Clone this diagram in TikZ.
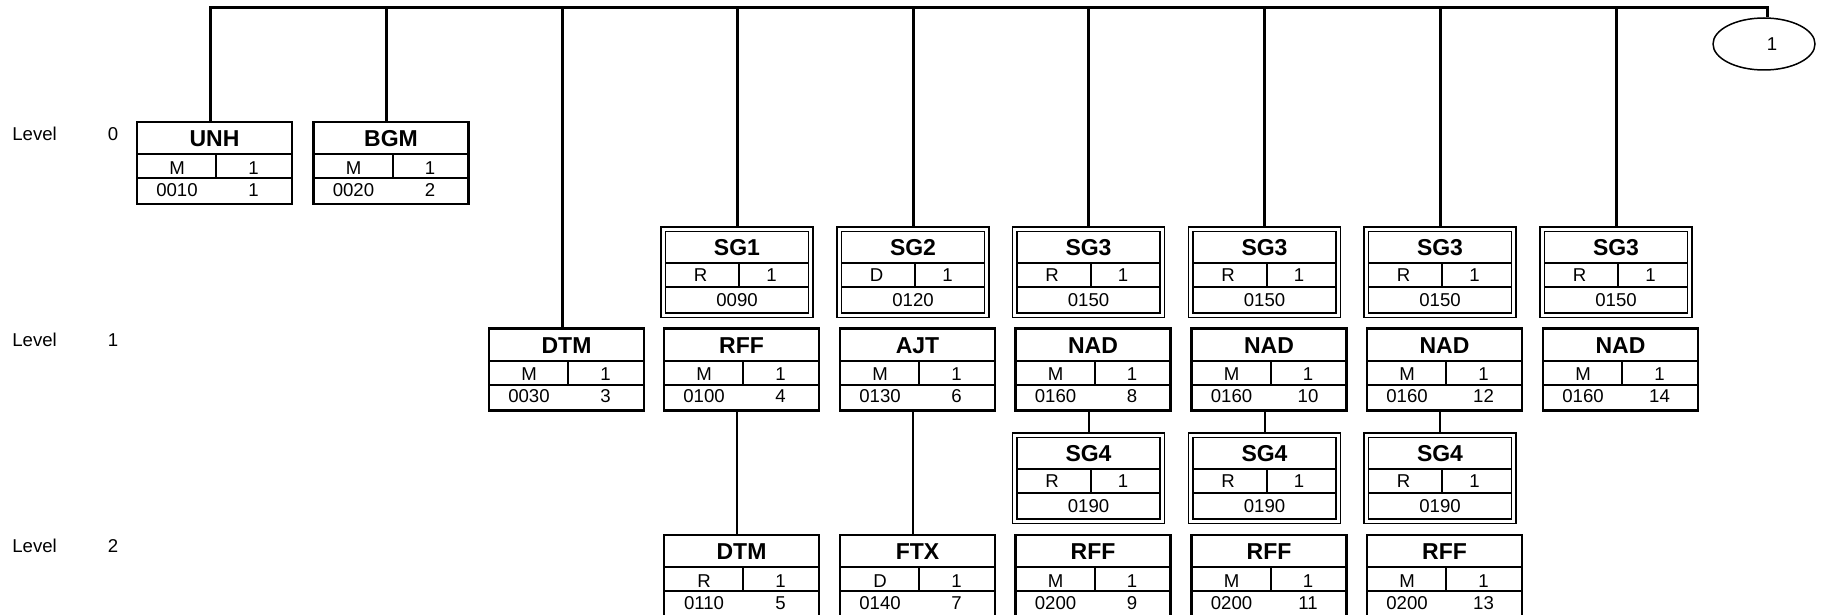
\documentclass[tikz,border=0pt]{standalone}
\usepackage{fontspec}
\setmainfont{Liberation Sans}
\usetikzlibrary{shapes.geometric,calc}

\tikzset{
  x=0.5pt, y=-0.5pt,
  bus/.style={line width=1.5pt, line join=miter},
  link/.style={line width=1.5pt},
  sublink/.style={line width=1pt},
  segframe/.style={draw, line width=1.1pt, rectangle, minimum width=77.5pt, minimum height=41pt, inner sep=0pt, outer sep=0pt},
  sgouter/.style={draw, line width=0.9pt, rectangle, minimum width=76pt, minimum height=45.25pt, inner sep=0pt, outer sep=0pt},
  sginner/.style={draw, line width=0.9pt, rectangle, minimum width=71.5pt, minimum height=40.75pt, inner sep=0pt, outer sep=0pt},
  rowline/.style={line width=1pt},
  ttl/.style={font=\fontsize{11.5}{12}\selectfont\bfseries, inner sep=0pt},
  txt/.style={font=\fontsize{9.3}{10}\selectfont, inner sep=0pt},
  lvl/.style={font=\fontsize{9.3}{10}\selectfont, inner sep=0pt, anchor=west},
  grp/.style={draw, ellipse, line width=0.75pt, minimum width=51pt, minimum height=26pt, inner sep=0pt},
}

% segment box: name, left x, top y, title, status, repeat, position, number
\newcommand{\segbox}[8]{%
  \node[segframe, anchor=north west] (#1) at (#2,#3) {};
  \draw[rowline] ($(#1.north west)+(0,32)$) -- ($(#1.north east)+(0,32)$);
  \draw[rowline] ($(#1.north west)+(0,56)$) -- ($(#1.north east)+(0,56)$);
  \draw[rowline] ($(#1.north west)+(79,32)$) -- ($(#1.north west)+(79,56)$);
  \node[ttl] (#1-t) at ($(#1.north west)+(77.5,17)$) {#4};
  \node[txt] (#1-s) at ($(#1.north west)+(40,46)$) {#5};
  \node[txt] (#1-r) at ($(#1.north west)+(116.5,46)$) {#6};
  \node[txt] (#1-p) at ($(#1.north west)+(40,68)$) {#7};
  \node[txt] (#1-n) at ($(#1.north west)+(116.5,68)$) {#8};
  \coordinate (#1-in) at ($(#1.north west)+(73,0)$);
  \coordinate (#1-out) at ($(#1.south west)+(73,0)$);
}

% group box: name, centre x, top y, title, status, repeat, position
\newcommand{\grpbox}[7]{%
  \node[sgouter, anchor=north] (#1) at (#2,#3) {};
  \node[sginner] (#1-i) at (#1.center) {};
  \draw[rowline] ($(#1-i.north west)+(0,31)$) -- ($(#1-i.north east)+(0,31)$);
  \draw[rowline] ($(#1-i.north west)+(0,55)$) -- ($(#1-i.north east)+(0,55)$);
  \draw[rowline] ($(#1-i.north west)+(73.5,31)$) -- ($(#1-i.north west)+(73.5,55)$);
  \node[ttl] (#1-t) at ($(#1-i.north west)+(71.5,16.3)$) {#4};
  \node[txt] (#1-s) at ($(#1-i.north west)+(35,43.3)$) {#5};
  \node[txt] (#1-r) at ($(#1-i.north west)+(106,43.3)$) {#6};
  \node[txt] (#1-p) at ($(#1-i.north west)+(71.5,68.6)$) {#7};
}

\begin{document}
\begin{tikzpicture}
\useasboundingbox (0,0) rectangle (1826,615);

% level labels
\node[lvl] (lv0) at (12,134) {Level};
\node[txt] (lv0n) at (113,134) {0};
\node[lvl] (lv1) at (12,340) {Level};
\node[txt] (lv1n) at (113,340) {1};
\node[lvl] (lv2) at (12,546) {Level};
\node[txt] (lv2n) at (113,546) {2};

% level 0
\segbox{unh}{137}{122}{UNH}{M}{1}{0010}{1}
\segbox{bgm}{313.5}{122}{BGM}{M}{1}{0020}{2}

% level 1 groups
\grpbox{sg1}{737}{227}{SG1}{R}{1}{0090}
\grpbox{sg2}{913}{227}{SG2}{D}{1}{0120}
\grpbox{sg3a}{1088.5}{227}{SG3}{R}{1}{0150}
\grpbox{sg3b}{1264.5}{227}{SG3}{R}{1}{0150}
\grpbox{sg3c}{1440}{227}{SG3}{R}{1}{0150}
\grpbox{sg3d}{1616}{227}{SG3}{R}{1}{0150}

% level 1 segments
\segbox{dtma}{489}{328.5}{DTM}{M}{1}{0030}{3}
\segbox{rffa}{664}{328.5}{RFF}{M}{1}{0100}{4}
\segbox{ajt}{840}{328.5}{AJT}{M}{1}{0130}{6}
\segbox{nada}{1015.5}{328.5}{NAD}{M}{1}{0160}{8}
\segbox{nadb}{1191.5}{328.5}{NAD}{M}{1}{0160}{10}
\segbox{nadc}{1367}{328.5}{NAD}{M}{1}{0160}{12}
\segbox{nadd}{1543}{328.5}{NAD}{M}{1}{0160}{14}

% level 2 groups
\grpbox{sg4a}{1088.5}{433}{SG4}{R}{1}{0190}
\grpbox{sg4b}{1264.5}{433}{SG4}{R}{1}{0190}
\grpbox{sg4c}{1440}{433}{SG4}{R}{1}{0190}

% level 2 segments
\segbox{dtmb}{664}{535}{DTM}{R}{1}{0110}{5}
\segbox{ftx}{840}{535}{FTX}{D}{1}{0140}{7}
\segbox{rffb}{1015.5}{535}{RFF}{M}{1}{0200}{9}
\segbox{rffc}{1191.5}{535}{RFF}{M}{1}{0200}{11}
\segbox{rffd}{1367}{535}{RFF}{M}{1}{0200}{13}

% continuation ellipse
\node[grp] (ell) at (1764,44) {};
\node[txt] (ell-t) at (1772,44) {1};

% bus
\coordinate (busR) at (1767,7.5);
\draw[bus] (unh-in) -- (unh-in |- busR) -- (busR) -- (busR |- ell.north);
\draw[link] (bgm-in) -- (bgm-in |- busR);
\draw[link] (dtma-in) -- (dtma-in |- busR);
\foreach \g in {sg1,sg2,sg3a,sg3b,sg3c,sg3d}{
  \draw[link] (\g.north) -- (\g.north |- busR);
}

% level 1 to level 2
\draw[sublink] (rffa-out) -- (rffa-out |- dtmb.north);
\draw[sublink] (ajt-out) -- (ajt-out |- ftx.north);
\draw[sublink] (nada-out) -- (nada-out |- sg4a.north);
\draw[sublink] (nadb-out) -- (nadb-out |- sg4b.north);
\draw[sublink] (nadc-out) -- (nadc-out |- sg4c.north);
\end{tikzpicture}
\end{document}
